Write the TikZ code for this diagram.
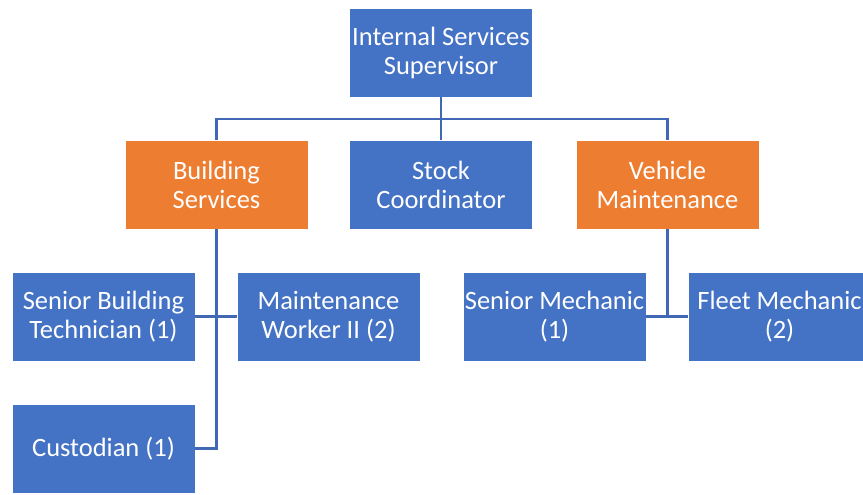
\documentclass[tikz,border=0pt]{standalone}
\usepackage{fontspec}
\setmainfont{Carlito}
\usepackage{xcolor}
\definecolor{boxblue}{HTML}{4472C4}
\definecolor{boxorange}{HTML}{ED7D31}
\definecolor{linkblue}{HTML}{4068B4}
\tikzset{
  post/.style={fill=boxblue, draw=white, line width=0.5pt, text=white, minimum width=5.49cm, minimum height=2.67cm, inner sep=0pt, align=center, font=\fontsize{22.6}{24.7}\selectfont},
  unit/.style={post, fill=boxorange},
  link/.style={line width=2.2pt, color=linkblue}
}

\begin{document}
\begin{tikzpicture}[x=0.03cm, y=-0.03cm]
\useasboundingbox (0,0) rectangle (863,494);
\node[post] (sup) at (441,52.5) {Internal Services\\Supervisor};
\node[unit] (bld) at (216.5,184.5) {Building\\Services};
\node[post] (stk) at (441,184.5) {Stock\\Coordinator};
\node[unit] (veh) at (667.5,184.5) {Vehicle\\Maintenance};
\node[post] (sbt) at (103.5,316.5) {Senior Building\\Technician (1)};
\node[post] (mw) at (328.5,316.5) {Maintenance\\Worker II (2)};
\node[post] (cus) at (103.5,448.5) {Custodian (1)};
\node[post] (sm) at (554.5,316.5) {Senior Mechanic\\(1)};
\node[post] (fm) at (779.5,316.5) {Fleet Mechanic\\(2)};
\coordinate (j1) at (441,119);
\draw[link] (sup.south) -- (j1) -| (bld.north);
\draw[link] (j1) -- (stk.north);
\draw[link] (j1) -| (veh.north);
\coordinate (j2) at (bld.south |- cus.east);
\draw[link] (bld.south) -- (j2) -- (cus.east);
\draw[link] (sbt.east) -- (mw.west);
\coordinate (j3) at (veh.south |- sm.east);
\draw[link] (veh.south) -- (j3);
\draw[link] (sm.east) -- (fm.west);
\end{tikzpicture}
\end{document}
